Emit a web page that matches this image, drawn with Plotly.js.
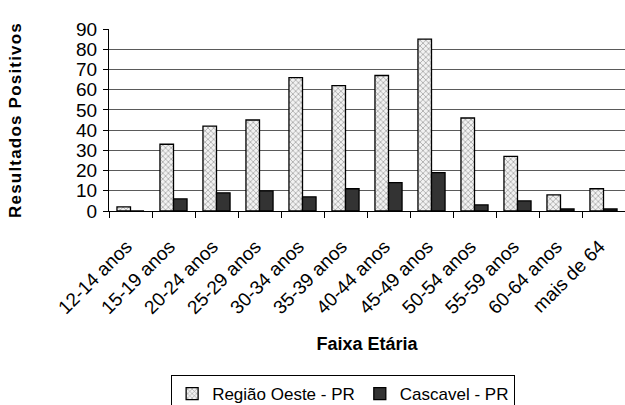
<!DOCTYPE html>
<html><head><meta charset="utf-8">
<script src="https://cdn.plot.ly/plotly-3.0.1.min.js"></script>
<style>
html,body{margin:0;padding:0;overflow:hidden;background:#fff}
.ytitle{letter-spacing:1.2px}
</style>
</head><body><div id="chart"></div>
<script>
const categories = ["12-14 anos","15-19 anos","20-24 anos","25-29 anos","30-34 anos","35-39 anos","40-44 anos","45-49 anos","50-54 anos","55-59 anos","60-64 anos","mais de 64"];
const regiaoOeste = [2,33,42,45,66,62,67,85,46,27,8,11];
const cascavel = [0,6,9,10,7,11,14,19,3,5,1,1];
const seriesNames = ["Região Oeste - PR","Cascavel - PR"];
const yTicks = [0,10,20,30,40,50,60,70,80,90];

const font = "Arial, 'Liberation Sans', sans-serif";
const traces = [
  {type:"bar", name:seriesNames[0], x:categories, y:regiaoOeste,
   marker:{color:"#ffffff", line:{color:"#000", width:1.3},
     pattern:{shape:"x", fgcolor:"#808080", bgcolor:"#f2f2f2", size:4, solidity:0.25}}},
  {type:"bar", name:seriesNames[1], x:categories, y:cascavel,
   marker:{color:"#333333", line:{color:"#000", width:1.3}}}
];
const layout = {
  width:625, height:405,
  margin:{l:109, r:0, t:29, b:194},
  paper_bgcolor:"#fff", plot_bgcolor:"#fff",
  barmode:"group", bargap:0.37, bargroupgap:0,
  font:{family:font, color:"#000"},
  showlegend:true,
  legend:{orientation:"h", xref:"container", yref:"container",
    x:0.549, xanchor:"center", y:0.074, yanchor:"top",
    bordercolor:"#000", borderwidth:1, bgcolor:"#fff",
    font:{size:17, family:font}, itemwidth:30, tracegroupgap:0},
  xaxis:{type:"category", tickangle:-45, tickson:"boundaries", ticks:"outside",
    ticklen:6, tickcolor:"#000", showline:true, linecolor:"#000", linewidth:1,
    tickfont:{size:19, family:font}, showgrid:false, automargin:false,
    ticklabelstandoff:16, ticklabelshift:-4,
    title:{text:"<b>Faixa Etária</b>", font:{size:18, family:font}, standoff:20}},
  yaxis:{range:[0,90], tickvals:yTicks, ticktext:yTicks.map(String),
    ticks:"outside", ticklen:5, tickcolor:"#000", showline:true, linecolor:"#000",
    showgrid:true, gridcolor:"#5a5a5a", gridwidth:1, zeroline:false,
    tickfont:{size:19, family:font}, automargin:false, ticklabelstandoff:2,
    title:{text:"<b>Resultados Positivos</b>", font:{size:17, family:font}, standoff:50}}
};
Plotly.newPlot("chart", traces, layout, {displayModeBar:false, staticPlot:true});
</script></body></html>
